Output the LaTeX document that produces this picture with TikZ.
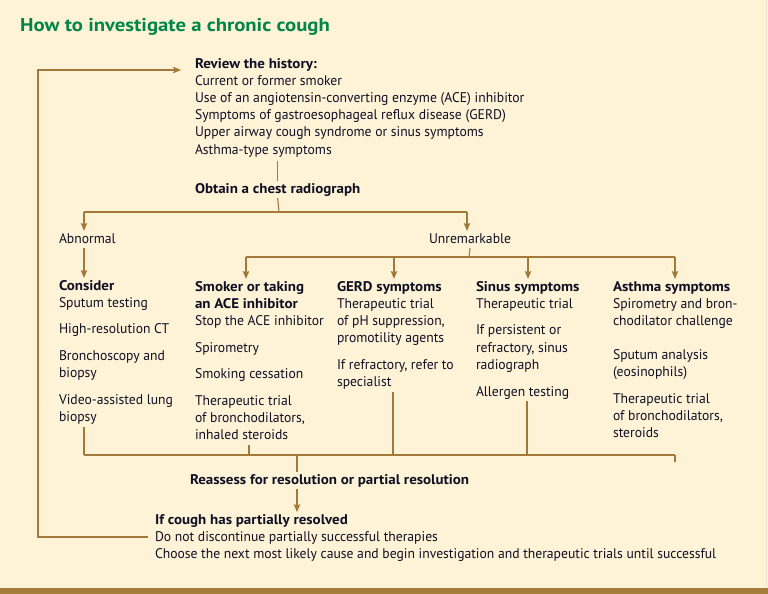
\documentclass[tikz,border=0pt]{standalone}
\usepackage{fontspec}
\setmainfont{PT Sans}[FakeStretch=0.975]
\newfontfamily\boldfam{PT Sans}[FakeStretch=1.07]
\newfontfamily\titlefam{PT Sans}[FakeStretch=1.12]
\usetikzlibrary{arrows.meta}
\definecolor{bg}{RGB}{255,243,215}
\definecolor{brn}{RGB}{163,121,58}
\definecolor{bar}{RGB}{165,124,58}
\definecolor{ttl}{RGB}{0,134,72}
\definecolor{ink}{RGB}{15,15,35}
\newcommand\tblock[1]{\begin{tabular}[t]{@{}l@{}}#1\end{tabular}}
\newcommand\hb[1]{{\boldfam\bfseries #1}}
\tikzset{
  txt/.style={anchor=base west, inner sep=0pt, outer sep=0pt, text=ink, font=\fontsize{14}{17.2}\selectfont},
  ln/.style={draw=brn, line width=1.1pt},
  arr/.style={draw=brn, line width=1.1pt, -{Stealth[length=8pt,width=6.5pt,inset=1.5pt]}},
}
\begin{document}
\begin{tikzpicture}[x=1pt,y=-1pt]
\useasboundingbox (0,0) rectangle (768,594);
\fill[bg] (0,0) rectangle (768,594);
\fill[bar] (0,588) rectangle (768,594);
\draw[draw={rgb,255:red,235;green,225;blue,205}, line width=0.8pt] (766,0) -- (766,588);

\node[anchor=base west, inner sep=0pt, text=ttl, font=\fontsize{18.5}{20}\selectfont\titlefam\bfseries] (title) at (20,32) {How to investigate a chronic cough};

\node[txt] (history) at (195,68) {\tblock{\hb{Review the history:}\\
Current or former smoker\\
Use of an angiotensin-converting enzyme (ACE) inhibitor\\
Symptoms of gastroesophageal reflux disease (GERD)\\
Upper airway cough syndrome or sinus symptoms\\
Asthma-type symptoms}};

\node[txt] (chest) at (195,193) {\tblock{\hb{Obtain a chest radiograph}}};
\node[txt] (abnormal) at (59,243) {\tblock{Abnormal}};
\node[txt] (unrem) at (429,243) {\tblock{Unremarkable}};

\node[txt] (consider) at (59,290) {\tblock{\hb{Consider}\\
Sputum testing\\[9.5pt]
High-resolution CT\\[9.5pt]
Bronchoscopy and\\
biopsy\\[9.5pt]
Video-assisted lung\\
biopsy}};

\node[txt] (smoker) at (195,291) {\tblock{\hb{Smoker or taking}\\
\hb{an ACE inhibitor}\\
Stop the ACE inhibitor\\[9.5pt]
Spirometry\\[9.5pt]
Smoking cessation\\[9.5pt]
Therapeutic trial\\
of bronchodilators,\\
inhaled steroids}};

\node[txt] (gerd) at (337,291) {\tblock{\hb{GERD symptoms}\\
Therapeutic trial\\
of pH suppression,\\
promotility agents\\[9.5pt]
If refractory, refer to\\
specialist}};

\node[txt] (sinus) at (476,291) {\tblock{\hb{Sinus symptoms}\\
Therapeutic trial\\[9.5pt]
If persistent or\\
refractory, sinus\\
radiograph\\[9.5pt]
Allergen testing}};

\node[txt] (asthma) at (613,291) {\tblock{\hb{Asthma symptoms}\\
Spirometry and bron-\\
chodilator challenge\\[17pt]
Sputum analysis\\
(eosinophils)\\[9.5pt]
Therapeutic trial\\
of bronchodilators,\\
steroids}};

\node[txt] (reassess) at (190,484) {\tblock{\hb{Reassess for resolution or partial resolution}}};

\node[txt, font=\fontsize{14}{17}\selectfont] (ifres) at (155,524) {\tblock{\hb{If cough has partially resolved}\\
Do not discontinue partially successful therapies\\
Choose the next most likely cause and begin investigation and therapeutic trials until successful}};

% coordinates
\coordinate (split1) at (279,212);
\coordinate (a1) at (84,212);
\coordinate (a2) at (467,212);
\coordinate (split2) at (469,257);
\coordinate (u1) at (246,257);
\coordinate (u2) at (394,257);
\coordinate (u3) at (528,257);
\coordinate (u4) at (675,257);
\coordinate (j1) at (84,455);
\coordinate (j2) at (249,455);
\coordinate (j3) at (393,455);
\coordinate (j4) at (527,455);
\coordinate (j5) at (675,455);
\coordinate (jm) at (297,455);
\coordinate (fbstart) at (148,537);
\coordinate (fbc1) at (38,537);
\coordinate (fbc2) at (38,70);
\coordinate (fbend) at (181,70);

% connectors
\draw[ln] (chest.north |- history.south) ++(0,2) -- (chest.north);
\draw[ln] (chest.south) -- (split1);
\draw[ln] (a1) -- (a2);
\draw[arr] (a1) -- (a1 |- abnormal.north);
\draw[arr] (a2) -- (a2 |- unrem.north);
\draw[arr] (a1 |- abnormal.south) -- (a1 |- consider.north);
\draw[ln] (unrem.south) -- (split2);
\draw[ln] (u1) -- (u4);
\draw[arr] (u1) -- (u1 |- smoker.north);
\draw[arr] (u2) -- (u2 |- gerd.north);
\draw[arr] (u3) -- (u3 |- sinus.north);
\draw[arr] (u4) -- (u4 |- asthma.north);

\draw[ln] (j1 |- consider.south) -- (j1);
\draw[ln] (j2 |- smoker.south) -- (j2);
\draw[ln] (j3 |- gerd.south) -- (j3);
\draw[ln] (j4 |- sinus.south) -- (j4);
\draw[ln, shorten <=19pt] (j5 |- asthma.south) -- (j5);
\draw[ln] (j1) -- (j5);
\draw[ln] (jm) -- (jm |- reassess.north);
\draw[arr] (jm |- reassess.south) -- (jm |- ifres.north);
\draw[arr] (fbstart) -- (fbc1) -- (fbc2) -- (fbend);
\end{tikzpicture}
\end{document}
